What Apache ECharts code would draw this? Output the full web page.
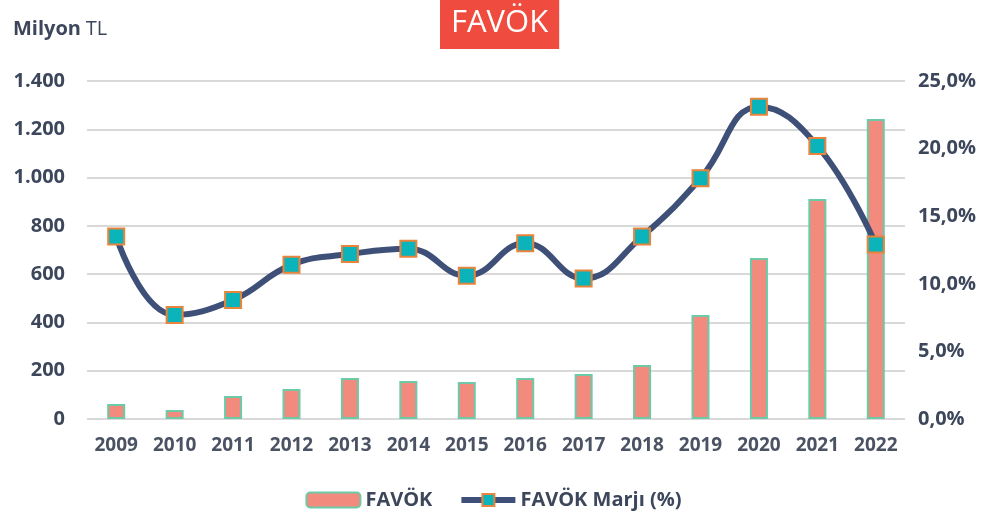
<!DOCTYPE html>
<html>
<head>
<meta charset="utf-8">
<script src="https://cdn.jsdelivr.net/npm/echarts@6/dist/echarts.min.js"></script>
<style>
  html, body { margin: 0; padding: 0; background: #fff; }
  #chart { width: 987px; height: 515px; }
</style>
</head>
<body>
<div id="chart"></div>
<script>
var years = ['2009','2010','2011','2012','2013','2014','2015','2016','2017','2018','2019','2020','2021','2022'];
// FAVÖK (Milyon TL)
var favok = [62, 37, 95, 124, 170, 157, 153, 170, 186, 224, 431, 667, 911, 1243];
// FAVÖK Marjı (%)
var marj = [13.5, 7.7, 8.8, 11.4, 12.2, 12.6, 10.6, 13.0, 10.4, 13.5, 17.8, 23.1, 20.2, 12.9];

var labelColor = '#3d475c';

var chart = echarts.init(document.getElementById('chart'));
var option = {
    backgroundColor: '#fff',
    animation: false,
    textStyle: { fontFamily: 'Open Sans' },
    title: [
        {
            text: 'FAVÖK',
            left: 440,
            top: 0,
            padding: [8, 11, 10, 11],
            backgroundColor: '#ef4c3f',
            textStyle: { color: '#fff', fontSize: 31, fontWeight: 'normal', fontFamily: 'Open Sans' }
        },
        {
            text: '{b|Milyon} {n|TL}',
            left: 8,
            top: 14,
            textStyle: {
                rich: {
                    b: { fontSize: 20, fontWeight: 'bold', color: labelColor, fontFamily: 'Open Sans' },
                    n: { fontSize: 20, fontWeight: 'normal', color: labelColor, fontFamily: 'Open Sans' }
                }
            }
        }
    ],
    legend: {
        bottom: 0,
        left: 'center',
        itemGap: 26,
        itemWidth: 54,
        itemHeight: 15,
        textStyle: { fontSize: 20, fontWeight: 'bold', color: labelColor },
        data: [
            { name: 'FAVÖK' },
            { name: 'FAVÖK Marjı (%)', lineStyle: { width: 6 } }
        ]
    },
    grid: { left: 87, right: 82, top: 81, bottom: 96 },
    xAxis: {
        type: 'category',
        data: years,
        axisLine: { show: false },
        axisTick: { show: false },
        axisLabel: { interval: 0, fontSize: 19, fontWeight: 'bold', color: '#4a5263', margin: 17 }
    },
    yAxis: [
        {
            type: 'value',
            min: 0,
            max: 1400,
            interval: 200,
            axisLabel: {
                fontSize: 20, fontWeight: 'bold', color: labelColor, margin: 22,
                formatter: function (v) { return v >= 1000 ? String(v).replace(/(\d)(\d{3})$/, '$1.$2') : String(v); }
            },
            splitLine: { lineStyle: { color: '#d9d9d9', width: 2 } }
        },
        {
            type: 'value',
            min: 0,
            max: 25,
            interval: 5,
            axisLabel: {
                fontSize: 20, fontWeight: 'bold', color: labelColor, margin: 13,
                formatter: function (v) { return v.toFixed(1).replace('.', ',') + '%'; }
            },
            splitLine: { show: false }
        }
    ],
    series: [
        {
            name: 'FAVÖK',
            type: 'bar',
            data: favok,
            barWidth: 18,
            itemStyle: { color: '#f28a7e', borderColor: '#6ccaa6', borderWidth: 2 }
        },
        {
            name: 'FAVÖK Marjı (%)',
            type: 'line',
            yAxisIndex: 1,
            data: marj,
            smooth: 0.45,
            symbol: 'rect',
            symbolSize: 16,
            lineStyle: { color: '#3f5078', width: 6 },
            itemStyle: { color: '#0ab4ba', borderColor: '#e8843c', borderWidth: 2 }
        }
    ]
};
chart.setOption(option);
</script>
</body>
</html>
